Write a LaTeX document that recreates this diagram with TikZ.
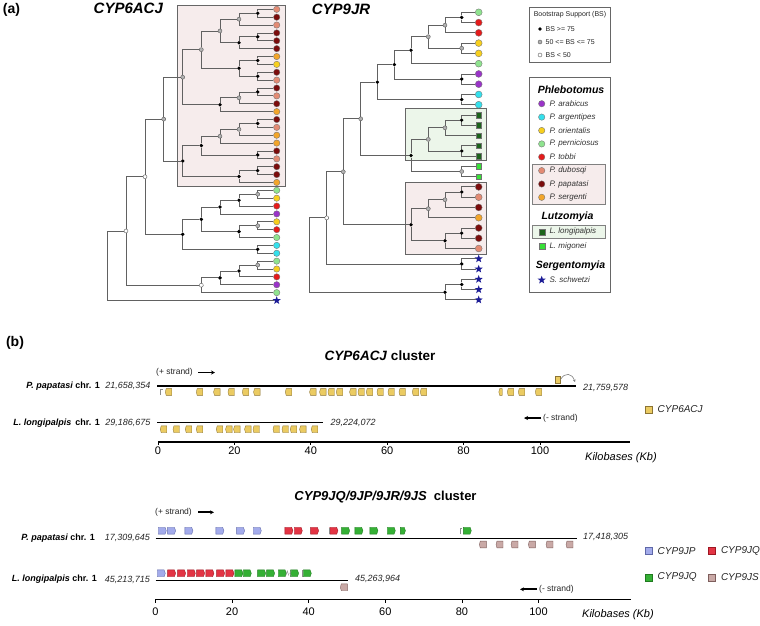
\documentclass[tikz,border=0pt]{standalone}
\usepackage{fontspec}
\setmainfont{Liberation Sans}
\usetikzlibrary{shapes.geometric,shapes.symbols,arrows.meta}
\newcommand\fsz[1]{\fontsize{#1}{#1}\selectfont}
\definecolor{sal}{HTML}{E38B74}
\definecolor{dkr}{HTML}{7B0C0C}
\definecolor{ora}{HTML}{F2A52A}
\definecolor{yel}{HTML}{F7CF1E}
\definecolor{ltg}{HTML}{8FE38F}
\definecolor{tob}{HTML}{E41B1B}
\definecolor{pur}{HTML}{9A34C8}
\definecolor{cya}{HTML}{35E0EC}
\definecolor{dkg}{HTML}{1B641B}
\definecolor{grn}{HTML}{38E038}
\definecolor{stb}{HTML}{1C1C96}
\definecolor{pinkbg}{HTML}{F6ECEC}
\definecolor{greenbg}{HTML}{ECF6EA}
\definecolor{gold}{HTML}{EBCB62}
\definecolor{golddk}{HTML}{8C7434}
\definecolor{jpb}{HTML}{A3ABEB}
\definecolor{jpbd}{HTML}{5F68A8}
\definecolor{jqr}{HTML}{E33444}
\definecolor{jqrd}{HTML}{9E1622}
\definecolor{jrg}{HTML}{35B035}
\definecolor{jrgd}{HTML}{1F7A1F}
\definecolor{jsp}{HTML}{C9A9A6}
\definecolor{jspd}{HTML}{7E5E5C}
\begin{document}
\begin{tikzpicture}[x=1pt,y=-1pt,
  edge/.style={draw=black!62, line width=0.8pt},
  lf/.style={circle, draw=black!55, line width=0.35pt, inner sep=0pt, minimum size=6.4pt},
  lfr/.style={lf, minimum size=6.9pt},
  sqr/.style={rectangle, draw=black!55, line width=0.35pt, inner sep=0pt, minimum size=5.6pt},
  stl/.style={star, star points=5, star point ratio=2.4, fill=stb, inner sep=0pt, minimum size=8.5pt},
  bsa/.style={circle, fill=black, inner sep=0pt, minimum size=3.8pt},
  bsb/.style={circle, fill=black!30, draw=black!65, line width=0.4pt, inner sep=0pt, minimum size=4pt},
  bsc/.style={circle, fill=white, draw=black!65, line width=0.4pt, inner sep=0pt, minimum size=4pt},
  frameb/.style={draw=black!60, line width=0.8pt},
  gw/.style={shape=signal, signal to=west, signal pointer angle=150, inner sep=0pt, minimum width=6.5pt, minimum height=6.8pt, line width=0.35pt},
  ge/.style={shape=signal, signal to=east, signal pointer angle=140, inner sep=0pt, minimum width=8pt, minimum height=6.8pt, line width=0.35pt},
  g6/.style={gw, fill=gold, draw=golddk},
  gjp/.style={ge, fill=jpb, draw=jpbd},
  gjq/.style={ge, fill=jqr, draw=jqrd},
  gjr/.style={ge, fill=jrg, draw=jrgd},
  gjs/.style={gw, minimum width=7pt, fill=jsp, draw=jspd},
  lgsq/.style={rectangle, inner sep=0pt, minimum size=7pt, line width=0.4pt},
  chrom/.style={draw=black, line width=1.5pt},
  axisl/.style={draw=black, line width=1.6pt},
  tick/.style={draw=black, line width=0.8pt},
  frag/.style={draw=black!45, line width=0.5pt},
  lgt/.style={font=\itshape\fsz{8}, text=black!80, inner sep=0pt, anchor=west},
  lgh/.style={font=\bfseries\itshape\fsz{10.5}, inner sep=0pt},
  bst/.style={font=\fsz{7}, text=black!85, inner sep=0pt, anchor=west},
  num/.style={font=\itshape\fsz{9}, text=black!85, inner sep=0pt},
  spl/.style={font=\fsz{9}, inner sep=0pt, anchor=east},
  tkl/.style={font=\fsz{11}, inner sep=0pt},
  strd/.style={font=\fsz{8.5}, text=black!85, inner sep=0pt},
  garr/.style={-{Stealth[length=4pt,width=4pt]}, line width=1.8pt},
  glt/.style={font=\itshape\fsz{10}, text=black!85, inner sep=0pt, anchor=west}
]
\useasboundingbox (0,0) rectangle (760,625);
\fill[white] (0,0) rectangle (760,625);

% ---------------- panel (a) ----------------
\node[font=\bfseries\fsz{14}, inner sep=0pt] (pa) at (11.5,9.5) {(a)};
\node[font=\bfseries\itshape\fsz{15}, inner sep=0pt] (t1) at (128.3,8.5) {CYP6ACJ};
\node[font=\bfseries\itshape\fsz{15}, inner sep=0pt] (t2) at (341,9.5) {CYP9JR};

% clade boxes
\draw[frameb, fill=pinkbg] (177.7,5) rectangle (285.3,186);
\draw[frameb, fill=greenbg] (405.7,108.3) rectangle (486,160.7);
\draw[frameb, fill=pinkbg] (405.7,182.3) rectangle (486.7,254);

% left tree leaves
\foreach \c [count=\i] in {sal,dkr,sal,dkr,dkr,dkr,ora,yel,dkr,sal,dkr,sal,dkr,ora,dkr,sal,ora,ora,dkr,sal,dkr,dkr,ora,ltg,yel,tob,pur,yel,tob,ltg,cya,cya,ltg,yel,tob,pur,ltg}
  \node[lf, fill=\c] (L\i) at (276.7,{9.3+(\i-1)*7.87}) {};
\node[stl] (L38) at (276.7,300.49) {};

% left tree internal nodes
\foreach \n/\x/\y/\t in {n1/257.7/13.235/bsa, n2/239/19.14/bsb, n3/257.7/36.845/bsa, n4/239/42.75/bsa,
  n5/220/30.94/bsb, n6/257.7/60.455/bsa, n7/257.7/76.195/bsa, n8/239/68.325/bsa, n9/201.3/49.63/bsb,
  n10/257.7/91.935/bsa, n11/239/97.84/bsb, n12/220/104.725/bsa, n13/182.7/77.18/bsb,
  n14/257.7/123.415/bsa, n15/239/129.32/bsb, n16/220/136.205/bsb, n17/257.7/154.895/bsa,
  n18/201.3/145.55/bsa, n19/257.7/170.635/bsa, n20/239/176.54/bsa, n21/182.7/161.045/bsa,
  n22/163.7/119.11/bsb, n23/257.7/194.245/bsb, n24/239/200.15/bsa, n25/220/207.035/bsa,
  n26/257.7/225.725/bsb, n27/239/231.63/bsa, n28/201.3/219.33/bsa, n29/257.7/249.335/bsa,
  n30/182.7/234.33/bsa, n31/145/176.72/bsc, n32/257.7/265.075/bsb, n33/239/270.98/bsa,
  n34/220/277.865/bsa, n35/201.3/285.24/bsc, n36/126/230.98/bsc}
  \node[\t] (\n) at (\x,\y) {};
\coordinate (r1) at (107.3,265.735);

\foreach \p/\c in {n1/L1,n1/L2,n2/n1,n2/L3,n3/L4,n3/L5,n4/n3,n4/L6,n5/n2,n5/n4,
  n6/L7,n6/L8,n7/L9,n7/L10,n8/n6,n8/n7,n9/n5,n9/n8,n10/L11,n10/L12,n11/n10,n11/L13,
  n12/n11,n12/L14,n13/n9,n13/n12,n14/L15,n14/L16,n15/n14,n15/L17,n16/n15,n16/L18,
  n17/L19,n17/L20,n18/n16,n18/n17,n19/L21,n19/L22,n20/n19,n20/L23,n21/n18,n21/n20,
  n22/n13,n22/n21,n23/L24,n23/L25,n24/n23,n24/L26,n25/n24,n25/L27,n26/L28,n26/L29,
  n27/n26,n27/L30,n28/n25,n28/n27,n29/L31,n29/L32,n30/n28,n30/n29,n31/n22,n31/n30,
  n32/L33,n32/L34,n33/n32,n33/L35,n34/n33,n34/L36,n35/n34,n35/L37,n36/n31,n36/n35,
  r1/n36,r1/L38}
  \draw[edge] (\p) |- (\c);

% right tree leaves
\foreach \c [count=\i] in {ltg,tob,tob,yel,yel,ltg,pur,pur,cya,cya}
  \node[lfr, fill=\c] (R\i) at (478.7,{12.3+(\i-1)*10.27}) {};
\foreach \i in {11,...,15}
  \node[sqr, fill=dkg] (R\i) at (478.7,{12.3+(\i-1)*10.27}) {};
\foreach \i in {16,17}
  \node[sqr, fill=grn] (R\i) at (478.7,{12.3+(\i-1)*10.27}) {};
\foreach \c [count=\j from 18] in {dkr,sal,dkr,ora,dkr,dkr,sal}
  \node[lfr, fill=\c] (R\j) at (478.7,{12.3+(\j-1)*10.27}) {};
\foreach \i in {25,...,29}
  \node[stl] (R\i) at (478.7,{12.3+(\i-1)*10.27}) {};

\foreach \n/\x/\y/\t in {m1/461.7/17.435/bsa, m2/445/25.14/bsb, m3/461.7/48.245/bsb, m4/428.3/36.69/bsb,
  m5/411/50.17/bsa, m6/461.7/79.055/bsa, m7/394.3/64.61/bsa, m8/461.7/99.595/bsa, m9/377.3/82.1/bsa,
  m10/461.7/120.135/bsa, m11/445/127.84/bsb, m12/461.7/150.945/bsa, m13/428.3/139.39/bsb,
  m14/461.7/171.485/bsb, m15/411/155.44/bsa, m16/360.7/118.77/bsb, m17/461.7/192.025/bsa,
  m18/445/199.73/bsb, m19/428.3/208.71/bsb, m20/461.7/233.105/bsa, m21/445/240.81/bsa,
  m22/411/224.76/bsa, m23/343.3/171.765/bsb, m24/461.7/263.915/bsa, m25/326.7/217.84/bsc,
  m26/461.7/284.455/bsa, m27/445/292.16/bsa}
  \node[\t] (\n) at (\x,\y) {};
\coordinate (r2) at (309.3,255);

\foreach \p/\c in {m1/R1,m1/R2,m2/m1,m2/R3,m3/R4,m3/R5,m4/m2,m4/m3,m5/m4,m5/R6,
  m6/R7,m6/R8,m7/m5,m7/m6,m8/R9,m8/R10,m9/m7,m9/m8,m10/R11,m10/R12,m11/m10,m11/R13,
  m12/R14,m12/R15,m13/m11,m13/m12,m14/R16,m14/R17,m15/m13,m15/m14,m16/m9,m16/m15,
  m17/R18,m17/R19,m18/m17,m18/R20,m19/m18,m19/R21,m20/R22,m20/R23,m21/m20,m21/R24,
  m22/m19,m22/m21,m23/m16,m23/m22,m24/R25,m24/R26,m25/m23,m25/m24,m26/R27,m26/R28,
  m27/m26,m27/R29,r2/m25,r2/m27}
  \draw[edge] (\p) |- (\c);

% bootstrap legend
\draw[frameb, line width=0.6pt] (529.3,7.3) rectangle (610.7,62.7);
\node[font=\fsz{7}, text=black!85, inner sep=0pt] (bsh) at (570,15) {Bootstrap Support (BS)};
\node[bsa] (bk1) at (540,29) {};
\node[bst] (bt1) at (545.5,29) {BS >= 75};
\node[bsb] (bk2) at (540,42) {};
\node[bst] (bt2) at (545.5,42) {50 <= BS <= 75};
\node[bsc] (bk3) at (540,55) {};
\node[bst] (bt3) at (545.5,55) {BS < 50};

% species legend
\draw[frameb, line width=0.6pt] (529.3,77.3) rectangle (610.7,292.7);
\draw[draw=black!50, line width=0.5pt, fill=pinkbg] (532.7,164) rectangle (605.7,204.3);
\draw[draw=black!50, line width=0.5pt, fill=greenbg] (532.7,225.7) rectangle (605.7,238.3);
\node[lgh] (hph) at (571,89.3) {Phlebotomus};
\foreach \c/\t/\y [count=\i] in {pur/P. arabicus/103.7, cya/P. argentipes/117.1, yel/P. orientalis/130.5,
  ltg/P. perniciosus/143.9, tob/P. tobbi/157, sal/P. dubosqi/170.6, dkr/P. papatasi/184, ora/P. sergenti/197.3}
  {\node[lf, fill=\c] (sm\i) at (541.7,\y) {};
   \node[lgt] (st\i) at (549.3,\y) {\t};}
\node[lgh] (hlu) at (567.5,216.7) {Lutzomyia};
\node[sqr, minimum size=6pt, fill=dkg] (lum1) at (541.7,231.9) {};
\node[lgt] (lut1) at (549.3,231.9) {L. longipalpis};
\node[sqr, minimum size=6pt, fill=grn] (lum2) at (541.7,246) {};
\node[lgt] (lut2) at (549.3,246) {L. migonei};
\node[lgh] (hse) at (570.5,266) {Sergentomyia};
\node[stl] (sem) at (541.7,280) {};
\node[lgt] (set) at (549.3,280) {S. schwetzi};

% ---------------- panel (b) ----------------
\node[font=\bfseries\fsz{14}, inner sep=0pt] (pb) at (15,343) {(b)};

% CYP6ACJ cluster
\node[font=\bfseries\fsz{13.5}, inner sep=0pt] (c1) at (380,356) {\textit{CYP6ACJ} cluster};
\node[strd, anchor=west] (ps1) at (156,372.5) {(+ strand)};
\coordinate (pa1) at (198,372.5);
\coordinate (pa2) at (215,372.5);
\draw[garr] (pa1) -- (pa2);

\node[spl] (sp1) at (100,386) {\textbf{\textit{P. papatasi}} \textbf{chr. 1}};
\node[num, anchor=east] (np1) at (150.5,386) {21,658,354};
\coordinate (c1a) at (157,386);
\coordinate (c1b) at (576,386);
\draw[chrom] (c1a) -- (c1b);
\node[num, anchor=west] (np2) at (583,388) {21,759,578};

\foreach \x [count=\i] in {169,200,217.3,231.7,246,257.3,289,313.3,323.3,331.7,340,353.3,361.7,370,380.7,391.7,402.7,416,424,511,522,539}
  \node[g6] (pp\i) at (\x,392) {};
\node[g6, minimum width=3.5pt] (ppx) at (501,392) {};
\draw[frag] (160.5,395) -- (160.5,389.5) -- (163.3,389.5);
\node[rectangle, fill=gold, draw=golddk, line width=0.35pt, minimum width=5.5pt, minimum height=6.5pt, inner sep=0pt] (ppu) at (557.5,379.5) {};
\coordinate (ppa) at (575,382);
\draw[draw=black!50, line width=0.6pt, -{Stealth[length=2.5pt,width=2.5pt]}] (ppu.east) .. controls (565,372) and (572,373) .. (ppa);

\node[spl] (sp2) at (100,422.7) {\textbf{\textit{L. longipalpis}}\, \textbf{chr. 1}};
\node[num, anchor=east] (nl1) at (150.5,422.7) {29,186,675};
\coordinate (c2a) at (157,422.7);
\coordinate (c2b) at (323.3,422.7);
\draw[chrom] (c2a) -- (c2b);
\node[num, anchor=west] (nl2) at (330.5,423) {29,224,072};
\foreach \x [count=\i] in {164,176.7,189,200,220,229.3,237.3,248.3,256.7,276.7,285.7,294,303.3,315}
  \node[g6] (ll\i) at (\x,429.3) {};

\coordinate (ma1) at (541,418);
\coordinate (ma2) at (524,418);
\draw[garr] (ma1) -- (ma2);
\node[strd, anchor=west] (ms1) at (543,418) {(- strand)};

\node[lgsq, fill=gold, draw=golddk] (lg6) at (648.3,409.3) {};
\node[glt] (lg6t) at (657.5,409.3) {CYP6ACJ};

% top axis
\coordinate (ax1) at (158,441.7);
\coordinate (ax2) at (630,441.7);
\draw[axisl] (ax1) -- (ax2);
\foreach \v [count=\i from 0] in {0,20,40,60,80,100}
  {\draw[tick] ({158+\i*76.4},441.7) -- ({158+\i*76.4},445);
   \node[tkl] (tk\i) at ({158+\i*76.4},451) {\v};}
\node[font=\itshape\fsz{11}, inner sep=0pt, anchor=west] (kb1) at (585,458) {Kilobases (Kb)};

% CYP9 cluster
\node[font=\bfseries\fsz{13}, inner sep=0pt] (c2) at (385.5,497) {\textit{CYP9JQ/9JP/9JR/9JS}\ \ cluster};
\node[strd, anchor=west] (ps2) at (155,512.3) {(+ strand)};
\coordinate (pb1) at (198,512.3);
\coordinate (pb2) at (214,512.3);
\draw[garr] (pb1) -- (pb2);

\node[spl] (sp3) at (95,538.3) {\textbf{\textit{P. papatasi}} \textbf{chr. 1}};
\node[num, anchor=east] (np3) at (150,538.3) {17,309,645};
\coordinate (c3a) at (155.5,538.3);
\coordinate (c3b) at (577,538.3);
\draw[chrom] (c3a) -- (c3b);
\node[num, anchor=west] (np4) at (583,537.3) {17,418,305};

\foreach \x [count=\i] in {161.7,171,188.3,219.3,240,256.7}
  \node[gjp] (bp\i) at (\x,530.7) {};
\foreach \x [count=\i] in {288.3,297.7,314,333.3}
  \node[gjq] (bq\i) at (\x,530.7) {};
\foreach \x [count=\i] in {345,358.3,373.3,390.7,466.7}
  \node[gjr] (br\i) at (\x,530.7) {};
\node[gjr, minimum width=5pt] (br6) at (402.3,530.7) {};
\foreach \x [count=\i] in {483.3,500,515,532.3,550,570}
  \node[gjs] (bs\i) at (\x,544.5) {};
\draw[frag] (329.3,533.5) -- (329.3,528);
\draw[frag] (460,534) -- (460,528) -- (462.3,528);

\node[spl] (sp4) at (97,579) {\textbf{\textit{L. longipalpis}} \textbf{chr. 1}};
\node[num, anchor=east] (nl3) at (150,580) {45,213,715};
\coordinate (c4a) at (155.5,580.7);
\coordinate (c4b) at (348.3,580.7);
\draw[chrom] (c4a) -- (c4b);
\node[num, anchor=west] (nl4) at (355,579) {45,263,964};

\node[gjp] (lp1) at (160.7,573.3) {};
\foreach \x [count=\i] in {171,181,190.7,200,209.3,220,229.3}
  \node[gjq] (lq\i) at (\x,573.3) {};
\foreach \x [count=\i] in {238.3,246.7,261,270,281.7,294,306.7}
  \node[gjr] (lr\i) at (\x,573.3) {};
\node[gjs] (ls1) at (344.3,587.3) {};
\draw[frag] (285.8,575.5) -- (287.3,571) -- (288.8,575.5);
\draw[frag] (291.5,570.5) -- (289.8,573.3) -- (291.5,576);
\draw[frag] (301.8,576.5) -- (301.8,570);

\coordinate (mb1) at (537,589.3);
\coordinate (mb2) at (520,589.3);
\draw[garr] (mb1) -- (mb2);
\node[strd, anchor=west] (ms2) at (539,589.3) {(- strand)};

\node[lgsq, fill=jpb, draw=jpbd] (lgp) at (648.3,550.7) {};
\node[glt] (lgpt) at (657.5,550.7) {CYP9JP};
\node[lgsq, fill=jqr, draw=jqrd] (lgq) at (711.7,550.7) {};
\node[glt] (lgqt) at (720.8,550.7) {CYP9JQ};
\node[lgsq, fill=jrg, draw=jrgd] (lgr) at (648.3,577.3) {};
\node[glt] (lgrt) at (657.5,577.3) {CYP9JQ};
\node[lgsq, fill=jsp, draw=jspd] (lgs) at (711.7,577.3) {};
\node[glt] (lgst) at (720.8,577.3) {CYP9JS};

% bottom axis
\coordinate (bx1) at (155.5,599.3);
\coordinate (bx2) at (631,599.3);
\draw[axisl] (bx1) -- (bx2);
\foreach \v [count=\i from 0] in {0,20,40,60,80,100}
  {\draw[tick] ({155.5+\i*76.6},599.3) -- ({155.5+\i*76.6},602.6);
   \node[tkl] (bk\i) at ({155.5+\i*76.6},612) {\v};}
\node[font=\itshape\fsz{11}, inner sep=0pt, anchor=west] (kb2) at (582,615) {Kilobases (Kb)};
\end{tikzpicture}
\end{document}
